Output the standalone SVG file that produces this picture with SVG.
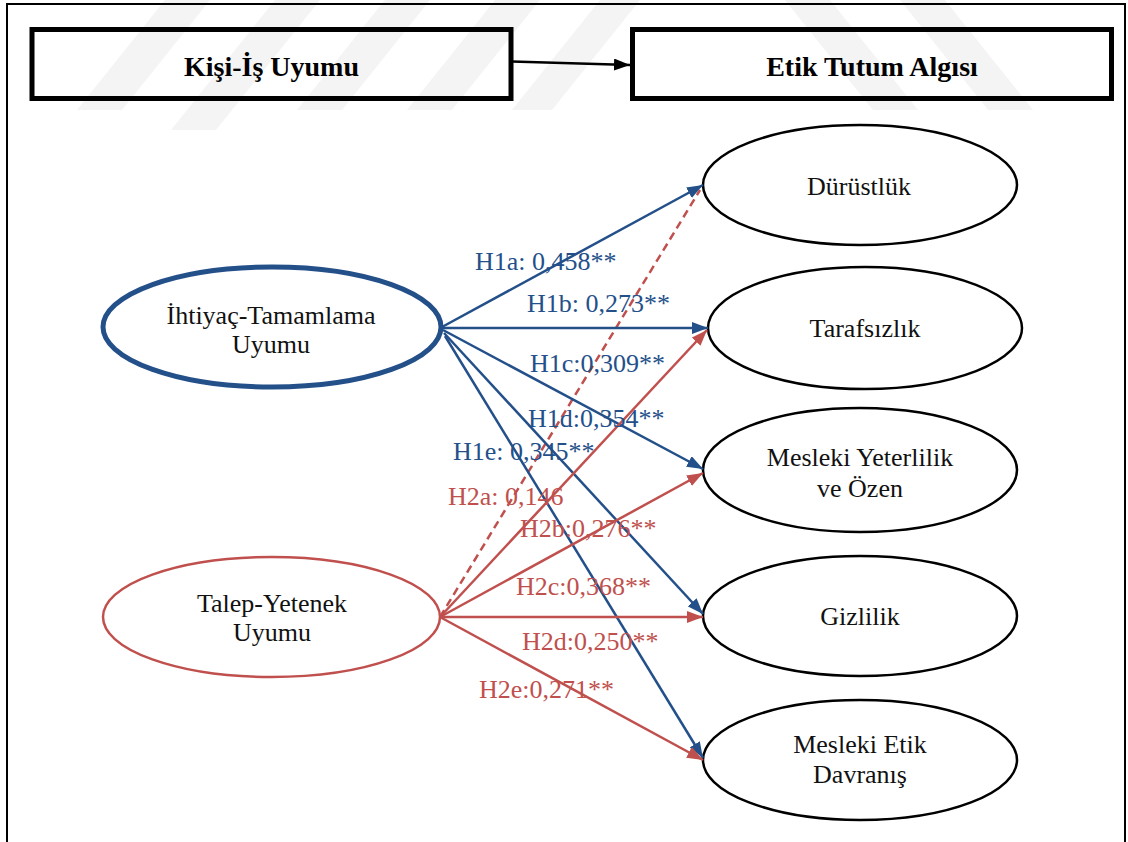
<svg xmlns="http://www.w3.org/2000/svg" width="1128" height="842" viewBox="0 0 1128 842">
<style>
.hdr{font-family:"Liberation Serif","Times New Roman",serif;font-weight:bold;font-size:28px;fill:#000;text-anchor:middle}
.nt{font-family:"Liberation Serif","Times New Roman",serif;font-size:26px;fill:#111;text-anchor:middle}
.lb{font-family:"Liberation Serif","Times New Roman",serif;font-size:26px}
.lbB{fill:#24508a}
.lbR{fill:#c0504d}
.box{fill:none;stroke:#000;stroke-width:5}
.oval{fill:#fff;stroke:#000;stroke-width:2.5}
.eB{stroke:#24508a;stroke-width:2.5;fill:none}
.eR{stroke:#c0504d;stroke-width:2.5;fill:none}
.wm{fill:#f4f4f4}
</style>
<defs>
<marker id="aB" viewBox="0 0 16 12" refX="16" refY="6" markerWidth="16" markerHeight="12" markerUnits="userSpaceOnUse" orient="auto"><path d="M0,0 L16,6 L0,12 Z" fill="#24508a"/></marker>
<marker id="aR" viewBox="0 0 16 12" refX="16" refY="6" markerWidth="16" markerHeight="12" markerUnits="userSpaceOnUse" orient="auto"><path d="M0,0 L16,6 L0,12 Z" fill="#c0504d"/></marker>
<marker id="aK" viewBox="0 0 16 12" refX="16" refY="6" markerWidth="16" markerHeight="12" markerUnits="userSpaceOnUse" orient="auto"><path d="M0,0 L16,6 L0,12 Z" fill="#000"/></marker>
</defs>
<rect width="1128" height="842" fill="#fff"/>
<g id="watermark">
<polygon class="wm" points="165,0 210,0 122,110 77,110"/>
<polygon class="wm" points="275,0 320,0 216,130 171,130"/>
<polygon class="wm" points="385,0 430,0 342,110 297,110"/>
<polygon class="wm" points="495,0 540,0 452,110 407,110"/>
<polygon class="wm" points="600,0 640,0 552,110 512,110"/>
<polygon class="wm" points="785,0 830,0 918,110 873,110"/>
<polygon class="wm" points="900,0 945,0 1033,110 988,110"/>
</g>
<rect x="7" y="4" width="1118" height="850" fill="none" stroke="#000" stroke-width="2"/>
<g id="kisi-is-uyumu">
<rect class="box" x="32" y="29.5" width="479" height="69"/>
<text class="hdr" x="271.5" y="76">Kişi-İş Uyumu</text>
</g>
<g id="etik-tutum-algisi">
<rect class="box" x="632.5" y="29.5" width="479" height="69"/>
<text class="hdr" x="872" y="76">Etik Tutum Algısı</text>
</g>
<g id="ihtiyac-tamamlama">
<ellipse cx="272" cy="327" rx="169" ry="60" fill="#fff" stroke="#24508a" stroke-width="5"/>
<text class="nt" x="271" y="324">İhtiyaç-Tamamlama</text>
<text class="nt" x="271" y="353">Uyumu</text>
</g>
<g id="talep-yetenek">
<ellipse cx="271.5" cy="617" rx="168.5" ry="60" fill="#fff" stroke="#c0504d" stroke-width="2.5"/>
<text class="nt" x="272" y="612">Talep-Yetenek</text>
<text class="nt" x="272" y="641">Uyumu</text>
</g>
<g id="durustluk">
<ellipse class="oval" cx="860" cy="185" rx="157" ry="60"/>
<text class="nt" x="859" y="195">Dürüstlük</text>
</g>
<g id="tarafsizlik">
<ellipse class="oval" cx="865" cy="328" rx="157" ry="61"/>
<text class="nt" x="865" y="337">Tarafsızlık</text>
</g>
<g id="mesleki-yeterlilik">
<ellipse class="oval" cx="860" cy="470" rx="157" ry="62"/>
<text class="nt" x="860" y="466">Mesleki Yeterlilik</text>
<text class="nt" x="860" y="497">ve Özen</text>
</g>
<g id="gizlilik">
<ellipse class="oval" cx="860" cy="616" rx="157" ry="60"/>
<text class="nt" x="860" y="625">Gizlilik</text>
</g>
<g id="mesleki-etik">
<ellipse class="oval" cx="860" cy="760" rx="157" ry="60"/>
<text class="nt" x="860" y="753">Mesleki Etik</text>
<text class="nt" x="860" y="783">Davranış</text>
</g>
<g id="connectors">
<line x1="512" y1="61.5" x2="630" y2="65" stroke="#000" stroke-width="2.5" marker-end="url(#aK)"/>
<line class="eR" x1="440" y1="617" x2="700" y2="190" stroke-dasharray="8,5"/>
<line class="eB" x1="442" y1="327" x2="703" y2="185" marker-end="url(#aB)"/>
<line class="eB" x1="442" y1="328" x2="708" y2="328" marker-end="url(#aB)"/>
<line class="eB" x1="443" y1="330" x2="703" y2="469" marker-end="url(#aB)"/>
<line class="eB" x1="444" y1="333" x2="703" y2="614" marker-end="url(#aB)"/>
<line class="eB" x1="445" y1="336" x2="703" y2="758" marker-end="url(#aB)"/>
<line class="eR" x1="440" y1="617" x2="707" y2="330" marker-end="url(#aR)"/>
<line class="eR" x1="440" y1="617" x2="703" y2="473" marker-end="url(#aR)"/>
<line class="eR" x1="440" y1="617" x2="703" y2="617" marker-end="url(#aR)"/>
<line class="eR" x1="440" y1="617" x2="703" y2="760" marker-end="url(#aR)"/>
</g>
<g id="labels">
<text class="lb lbB" x="475" y="270">H1a: 0,458**</text>
<text class="lb lbB" x="527" y="312">H1b: 0,273**</text>
<text class="lb lbB" x="530" y="372">H1c:0,309**</text>
<text class="lb lbB" x="528" y="427">H1d:0,354**</text>
<text class="lb lbB" x="453" y="460">H1e: 0,345**</text>
<text class="lb lbR" x="448" y="505">H2a: 0,146</text>
<text class="lb lbR" x="520" y="537">H2b:0,276**</text>
<text class="lb lbR" x="516" y="595">H2c:0,368**</text>
<text class="lb lbR" x="522" y="650">H2d:0,250**</text>
<text class="lb lbR" x="479" y="698">H2e:0,271**</text>
</g>
</svg>
